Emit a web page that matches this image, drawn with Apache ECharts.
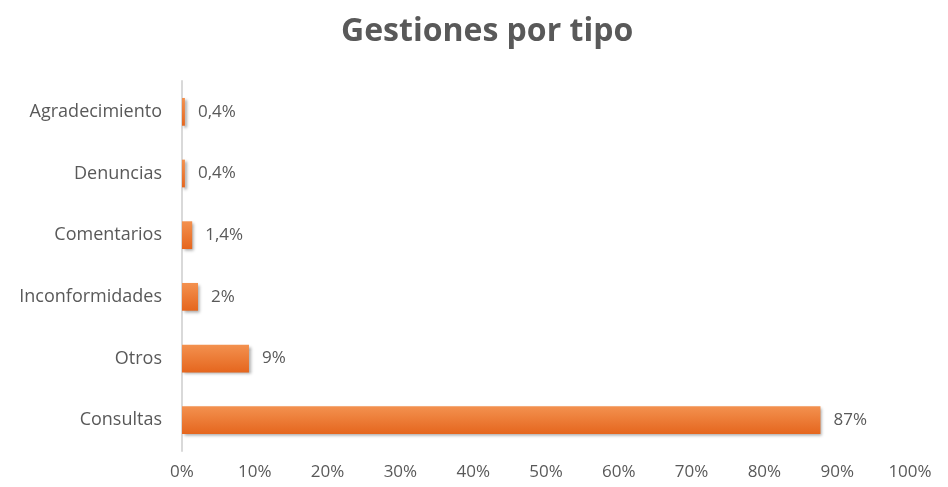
<!DOCTYPE html>
<html><head><meta charset="utf-8">
<script src="https://cdn.jsdelivr.net/npm/echarts@6/dist/echarts.min.js"></script>
<style>html,body{margin:0;padding:0;background:#fff}#c{width:948px;height:487px}</style>
</head><body><div id="c"></div>
<script>
const categories = ['Consultas','Otros','Inconformidades','Comentarios','Denuncias','Agradecimiento'];
const values = [87.7, 9.2, 2.2, 1.4, 0.4, 0.4];
const valueLabels = ['87%','9%','2%','1,4%','0,4%','0,4%'];
const tickValues = [0,10,20,30,40,50,60,70,80,90,100];

const chart = echarts.init(document.getElementById('c'));
chart.setOption({
  animation:false,
  backgroundColor:'#fff',
  title:{text:'Gestiones por tipo',left:336,top:11,
    textStyle:{fontFamily:'Open Sans',fontSize:32,fontWeight:'bold',color:'#595959'}},
  grid:{left:182,right:38,top:81,bottom:36},
  xAxis:{type:'value',min:0,max:100,interval:10,
    axisLine:{show:false},axisTick:{show:false},splitLine:{show:false},
    axisLabel:{formatter:v=>v+'%',color:'#595959',fontFamily:'Open Sans',fontSize:17,margin:13}},
  yAxis:{type:'category',data:categories,
    axisLine:{show:true,lineStyle:{color:'#d9d9d9',width:2}},axisTick:{show:false},
    axisLabel:{color:'#595959',fontFamily:'Open Sans',fontSize:18,margin:20}},
  series:[{type:'bar',data:values,barWidth:'45%',
    itemStyle:{color:new echarts.graphic.LinearGradient(0,0,0,1,[{offset:0,color:'#F3914F'},{offset:1,color:'#E5661E'}]),
      shadowColor:'rgba(0,0,0,0.35)',shadowBlur:3,shadowOffsetX:2,shadowOffsetY:2},
    label:{show:true,position:'right',distance:13,color:'#595959',fontFamily:'Open Sans',fontSize:17,
      formatter:p=>valueLabels[p.dataIndex]}}]
});
</script></body></html>
